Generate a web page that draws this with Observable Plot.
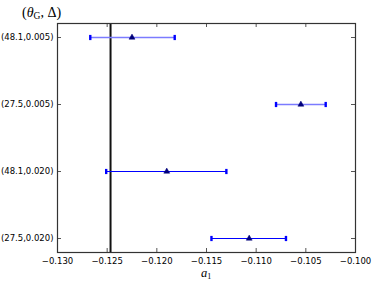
<!DOCTYPE html>
<html>
<head>
<meta charset="utf-8">
<script src="https://cdn.jsdelivr.net/npm/d3@7"></script>
<script src="https://cdn.jsdelivr.net/npm/@observablehq/plot@0.6"></script>
<style>
  html, body { margin: 0; padding: 0; background: #fff; }
  #chart { width: 374px; height: 283px; }
</style>
</head>
<body>
<div id="chart"></div>
<script>
// Data
const labels = ["(48.1,0.005)", "(27.5,0.005)", "(48.1,0.020)", "(27.5,0.020)"];
const center = [-0.1225, -0.1055, -0.1190, -0.1107];
const lower  = [-0.1267, -0.1080, -0.1251, -0.1145];
const upper  = [-0.1182, -0.1030, -0.1130, -0.1070];
const deltas = ["0.005", "0.005", "0.020", "0.020"];
const xTicks = [-0.130, -0.125, -0.120, -0.115, -0.110, -0.105, -0.100];
const refLine = [-0.12466];

const rows = labels.map((label, i) => ({label, mid: center[i], lo: lower[i], hi: upper[i], delta: deltas[i]}));

const W = 374, H = 283;
const mL = 57, mR = 19, mT = 23, mB = 31;
const frameW = W - mL - mR, frameH = H - mT - mB;
const tickLen = 4;
const axisColor = "#555";
const fmt = d3.format(".3f");

// small vertical bar used as error-bar cap marker
const capSymbol = {draw(ctx) { ctx.rect(-1.2, -2.6, 2.4, 5.2); }};

const plot = Plot.plot({
  width: W, height: H,
  marginLeft: mL, marginRight: mR, marginTop: mT, marginBottom: mB,
  style: {fontFamily: "DejaVu Sans", fontSize: "8.5px", color: "#000", background: "#fff"},
  x: {domain: [-0.130, -0.100], ticks: xTicks, tickFormat: fmt, label: null},
  y: {type: "point", domain: labels, padding: 0.19, label: null},
  color: {domain: ["0.005", "0.020"], range: ["#7b7bff", "#0000ff"]},
  marks: [
    Plot.axisX(xTicks, {tickSize: 0, tickPadding: 5, tickFormat: fmt, label: null}),
    Plot.axisY(labels, {tickSize: 0, tickPadding: 4, label: null}),
    // inward ticks on all four sides
    Plot.tickX(xTicks.slice(1, -1), {x: d => d, insetBottom: frameH - tickLen, stroke: axisColor}),
    Plot.tickX(xTicks.slice(1, -1), {x: d => d, insetTop: frameH - tickLen, stroke: axisColor}),
    Plot.tickY(labels, {y: d => d, insetRight: frameW - tickLen, stroke: axisColor}),
    Plot.tickY(labels, {y: d => d, insetLeft: frameW - tickLen, stroke: axisColor}),
    // reference line
    Plot.ruleX(refLine, {x: d => d, stroke: "#111", strokeWidth: 2}),
    // error bars
    Plot.ruleY(rows, {y: "label", x1: "lo", x2: "hi", stroke: "delta", strokeWidth: d => d.delta === "0.005" ? 1.6 : 1}),
    Plot.dot(rows, {x: "lo", y: "label", symbol: capSymbol, fill: "#0000ff", stroke: "none"}),
    Plot.dot(rows, {x: "hi", y: "label", symbol: capSymbol, fill: "#0000ff", stroke: "none"}),
    Plot.dot(rows, {x: "mid", y: "label", symbol: "triangle", r: 2.2, fill: "#00007a", stroke: "#00007a", strokeWidth: 0.5}),
    Plot.frame({stroke: "#333", strokeWidth: 1.2})
  ]
});

document.getElementById("chart").appendChild(plot);
const svg = d3.select(plot);

// Place a text so that its left edge is exactly at x (measured)
function pinLeft(sel, x) {
  const bb = sel.node().getBBox();
  sel.attr("transform", `translate(${(x - bb.x).toFixed(2)},0)`);
}

// Title (θ_G, Δ)
const tg = svg.append("g").attr("text-anchor", "start");
const title = tg.append("text")
  .attr("x", 0).attr("y", 17)
  .attr("text-anchor", "start")
  .attr("font-family", "Liberation Serif, DejaVu Serif, serif")
  .attr("font-size", "14px")
  .attr("fill", "#000");
title.append("tspan").text("(");
title.append("tspan").attr("font-style", "italic").text("θ");
title.append("tspan").attr("font-size", "9.5px").attr("dy", "2").text("G");
title.append("tspan").attr("dy", "-2").text(", Δ)");
pinLeft(tg, 22);

// x label a_1
const xg = svg.append("g").attr("text-anchor", "start");
const xl = xg.append("text")
  .attr("x", 0).attr("y", 277)
  .attr("text-anchor", "start")
  .attr("font-family", "Liberation Serif, DejaVu Serif, serif")
  .attr("font-size", "12.5px")
  .attr("fill", "#000");
xl.append("tspan").attr("font-style", "italic").text("a");
xl.append("tspan").attr("font-size", "8px").attr("dy", "2").text("1");
pinLeft(xg, 201);
</script>
</body>
</html>
